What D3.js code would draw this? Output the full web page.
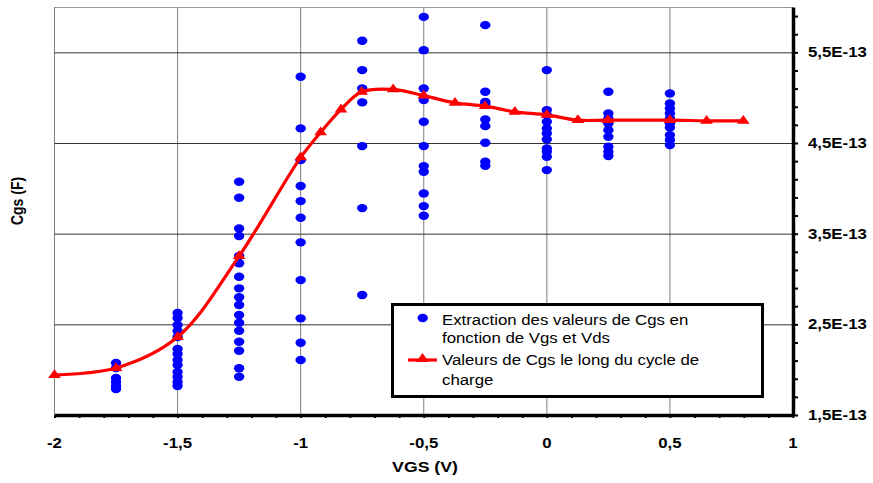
<!DOCTYPE html>
<html>
<head>
<meta charset="utf-8">
<script src="https://cdn.jsdelivr.net/npm/d3@7"></script>
<style>
  html, body { margin: 0; padding: 0; background: #fff; }
  svg { display: block; font-family: "Liberation Sans", Arial, sans-serif; }
</style>
</head>
<body>
<svg id="chart" width="873" height="483"></svg>
<script>
// ---------- data (Cgs values in units of 1E-13 F) ----------
const UNIT = 1e-13;
const vgsColumns = [-1.75, -1.5, -1.25, -1, -0.75, -0.5, -0.25, 0, 0.25, 0.5];
const cgsAtM175 = [2.073, 2.018, 1.908, 1.864, 1.820, 1.787];
const cgsAtM150 = [2.625, 2.569, 2.492, 2.426, 2.360, 2.228, 2.173, 2.106, 2.051, 1.974, 1.919, 1.864, 1.820];
const cgsAtM125 = [4.072, 3.896, 3.558, 3.474, 3.253, 3.173, 3.025, 2.897, 2.798, 2.713, 2.603, 2.518, 2.429, 2.308, 2.209, 2.015, 1.922];
const cgsAtM100 = [5.230, 4.661, 4.311, 4.025, 3.859, 3.675, 3.404, 2.988, 2.566, 2.297, 2.106];
const cgsAtM075 = [5.627, 5.304, 5.102, 4.948, 4.466, 3.782, 2.823];
const cgsAtM050 = [5.891, 5.524, 5.102, 4.973, 4.734, 4.466, 4.245, 4.182, 3.944, 3.804, 3.697];
const cgsAtM025 = [5.800, 5.065, 4.954, 4.929, 4.760, 4.686, 4.502, 4.293, 4.249];
const cgsAt000  = [5.304, 4.863, 4.808, 4.734, 4.661, 4.606, 4.540, 4.440, 4.403, 4.348, 4.201];
const cgsAtP025 = [5.065, 4.826, 4.771, 4.716, 4.642, 4.568, 4.458, 4.403, 4.356];
const cgsAtP050 = [5.047, 4.937, 4.881, 4.826, 4.771, 4.716, 4.672, 4.587, 4.532, 4.477];
const columnValues = [cgsAtM175, cgsAtM150, cgsAtM125, cgsAtM100, cgsAtM075, cgsAtM050, cgsAtM025, cgsAt000, cgsAtP025, cgsAtP050];

const cycleVgs = [-2, -1.75, -1.5, -1.25, -1, -0.919, -0.836, -0.752, -0.624, -0.5, -0.373, -0.251, -0.13, 0, 0.126, 0.248, 0.5, 0.649, 0.798];
const cycleCgs = [1.941, 2.018, 2.360, 3.253, 4.341, 4.617, 4.870, 5.065, 5.091, 5.023, 4.943, 4.907, 4.844, 4.810, 4.752, 4.752, 4.752, 4.745, 4.745];

const xMajorTicks = [-2, -1.5, -1, -0.5, 0, 0.5, 1];
const yMajorTicks = [1.5, 2.5, 3.5, 4.5, 5.5];
const xTitle = "VGS (V)";
const yTitle = "Cgs (F)";
const legendLabels = [["Extraction des valeurs de Cgs en", "fonction de Vgs et Vds"], ["Valeurs de Cgs le long du cycle de", "charge"]];

// ---------- build ----------
const svg = d3.select("#chart");
const x = d3.scaleLinear().domain([-2, 1]).range([54.5, 793]);
const y = d3.scaleLinear().domain([1.5 * UNIT, 6.0 * UNIT]).range([415, 7]);
const fmtComma = v => String(+v.toFixed(2)).replace(".", ",");
const fmtY = v => (v / UNIT).toFixed(1).replace(".", ",") + "E-13";

const X0 = x.range()[0], X1 = x.range()[1], Y0 = y.range()[0], Y1 = y.range()[1];

// gridlines
const grid = svg.append("g");
grid.selectAll("line.v").data(xMajorTicks.filter(v => v < 1)).join("line")
  .attr("x1", d => x(d)).attr("x2", d => x(d)).attr("y1", Y1).attr("y2", Y0)
  .attr("stroke", "#808080").attr("stroke-width", 1);
grid.selectAll("line.h").data(yMajorTicks.filter(v => v > 1.5).concat([6.0])).join("line")
  .attr("x1", X0).attr("x2", X1).attr("y1", d => y(d * UNIT) + 0.5).attr("y2", d => y(d * UNIT) + 0.5)
  .attr("stroke", d => d === 6.0 ? "#999" : "#333").attr("stroke-width", 1);

// bottom axis with minor ticks
const xMinor = d3.range(-20, 11).map(i => i / 10);
const gx = svg.append("g").attr("transform", `translate(0,${Y0})`)
  .call(d3.axisBottom(x).tickValues(xMinor).tickSize(3).tickSizeOuter(0).tickFormat(""));
gx.select(".domain").attr("stroke", "#000").attr("stroke-width", 3.5);
gx.selectAll(".tick line").attr("stroke", "#000").attr("stroke-width", 2);

const gxl = svg.append("g");
gxl.selectAll("text").data(xMajorTicks).join("text")
  .attr("transform", d => `translate(${x(d)},448) scale(1.2,1)`)
  .attr("text-anchor", "middle").attr("font-weight", "bold").attr("font-size", 14)
  .text(d => fmtComma(d));

// right axis with minor ticks
const yMinor = d3.range(15, 61, 2).map(i => i / 10 * UNIT);
const gy = svg.append("g").attr("transform", `translate(${X1},0)`)
  .call(d3.axisRight(y).tickValues(yMinor).tickSize(5).tickSizeOuter(0).tickFormat(""));
gy.select(".domain").attr("stroke", "#000").attr("stroke-width", 3.5);
gy.selectAll(".tick line").attr("stroke", "#000").attr("stroke-width", 2);

svg.append("g").selectAll("text").data(yMajorTicks).join("text")
  .attr("transform", d => `translate(808,${y(d * UNIT) + 5}) scale(1.2,1)`)
  .attr("font-weight", "bold").attr("font-size", 14)
  .text(d => fmtY(d * UNIT));

// axis titles
svg.append("text").attr("transform", "translate(425,472) scale(1.22,1)")
  .attr("text-anchor", "middle").attr("font-weight", "bold").attr("font-size", 14.5).text(xTitle);
svg.append("text").attr("transform", "translate(23,201) scale(1.2,1) rotate(-90)")
  .attr("text-anchor", "middle").attr("font-weight", "bold").attr("font-size", 14).text(yTitle);

// scatter points
const pts = [];
vgsColumns.forEach((v, i) => columnValues[i].forEach(c => pts.push({ v, c: c * UNIT })));
svg.append("g").selectAll("ellipse").data(pts).join("ellipse")
  .attr("cx", d => x(d.v)).attr("cy", d => y(d.c)).attr("rx", 5.2).attr("ry", 4.2)
  .attr("fill", "#0000FF");

// cycle curve
const cyc = cycleVgs.map((v, i) => ({ v, c: cycleCgs[i] * UNIT }));
const line = d3.line().x(d => x(d.v)).y(d => y(d.c)).curve(d3.curveCatmullRom.alpha(0.5));
svg.append("path").datum(cyc).attr("d", line)
  .attr("fill", "none").attr("stroke", "#FF0000").attr("stroke-width", 3.2);
const tri = d3.symbol().type(d3.symbolTriangle).size(45);
svg.append("g").selectAll("path").data(cyc).join("path")
  .attr("transform", d => `translate(${x(d.v)},${y(d.c)}) scale(1.25,1)`)
  .attr("d", tri).attr("fill", "#FF0000");

// legend
const lg = svg.append("g");
lg.append("rect").attr("x", 392.5).attr("y", 304.5).attr("width", 370).attr("height", 92)
  .attr("fill", "#fff").attr("stroke", "#000").attr("stroke-width", 3);
lg.append("ellipse").attr("cx", 422.7).attr("cy", 318).attr("rx", 5.2).attr("ry", 4.2).attr("fill", "#0000FF");
lg.append("line").attr("x1", 408).attr("x2", 437).attr("y1", 360).attr("y2", 360)
  .attr("stroke", "#FF0000").attr("stroke-width", 3.2);
lg.append("path").attr("transform", "translate(422.5,359) scale(1.25,1)").attr("d", tri).attr("fill", "#FF0000");
const legendLines = [
  { t: legendLabels[0][0], y: 325 }, { t: legendLabels[0][1], y: 343 },
  { t: legendLabels[1][0], y: 365 }, { t: legendLabels[1][1], y: 385 }
];
lg.selectAll("text").data(legendLines).join("text")
  .attr("transform", d => `translate(442,${d.y}) scale(1.12,1)`)
  .attr("font-size", 15).attr("fill", "#000").text(d => d.t);
</script>
</body>
</html>
